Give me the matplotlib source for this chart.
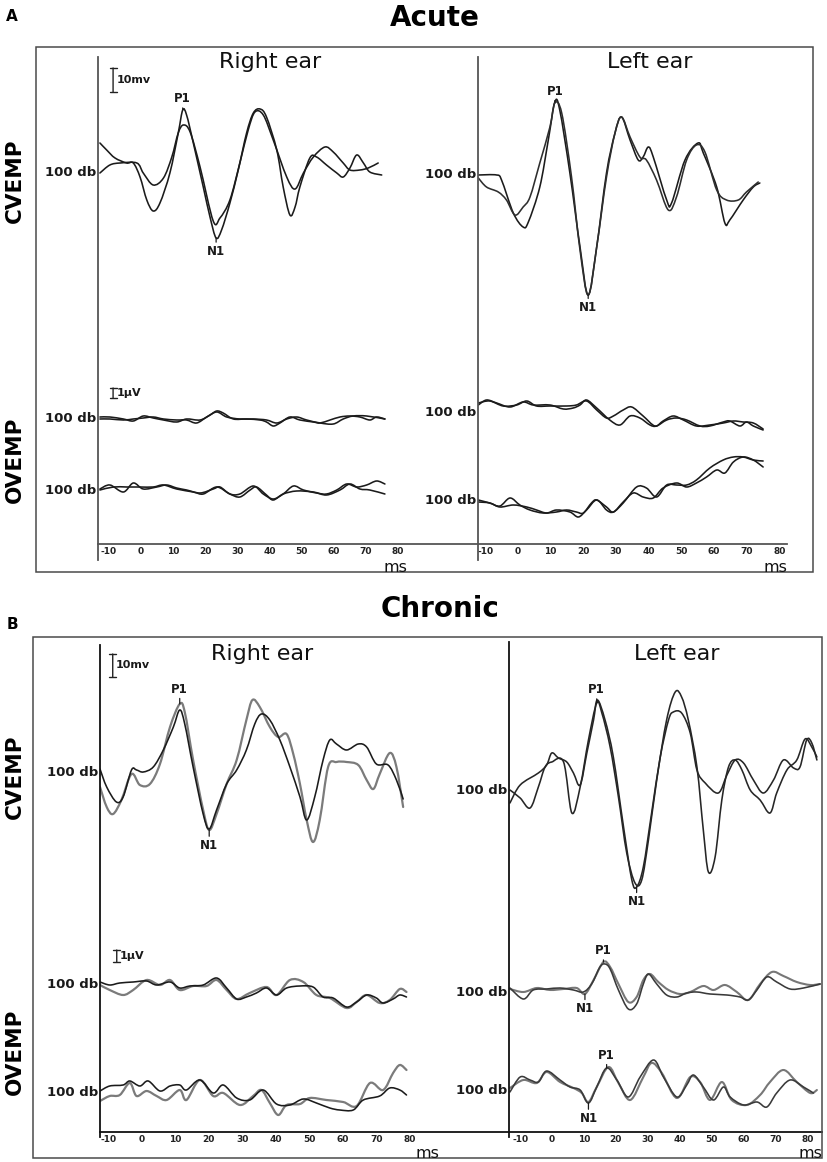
import numpy as np
import matplotlib
matplotlib.use("Agg")
import matplotlib.pyplot as plt
from matplotlib.patches import Rectangle, PathPatch
from matplotlib.path import Path

# x axis ticks (ms)
TICKS_MS = [-10, 0, 10, 20, 30, 40, 50, 60, 70, 80]
TICK_LABELS = ["-10", "0", "10", "20", "30", "40", "50", "60", "70", "80"]

# ---------------- Acute, right ear ----------------
A_R_CV_T1 = [-12.8, -10.7, -8.1, -4.5, -2.4, -0.3, 1.8, 3.8, 5.9, 9.0, 11.6, 13.0, 14.2, 16.3, 19.4, 21.5, 23.4, 25.1, 27.7, 30.3,
             32.9, 35.0, 37.1, 39.1, 42.3, 44.3, 46.4, 48.0, 49.5, 52.6, 54.7, 57.8, 61.0, 63.0, 65.1, 67.2, 69.3, 71.3, 75.0]
A_R_CV_Y1 = [30, 23, 15, 10, 10, -4, -27, -38, -30, 0, 40, 63, 58, 30, -14, -44, -65, -57, -30, 3,
             40, 60, 64, 56, 23, -14, -42, -34, -14, 15, 16, 8, 0, -4, 5, 18, 10, 1, -2]
A_R_CV_T2 = [-12.8, -9.7, -6.5, -1.3, 0.7, 3.8, 7.0, 9.6, 11.6, 13.2, 15.3, 18.4, 22.5, 24.6, 27.7, 30.8, 33.4, 35.5, 38.1, 41.2,
             45.4, 48.0, 50.6, 53.7, 57.3, 59.9, 63.0, 65.1, 68.2, 70.8, 73.9]
A_R_CV_Y2 = [0, 8, 10, 10, 0, -12, -5, 16, 40, 48, 41, 6, -48, -45, -27, 10, 43, 61, 58, 33,
             -4, -16, 0, 16, 26, 21, 10, 3, 3, 5, 10]

A_R_OV1_T1 = [-12.8, -9.7, -5.5, -2.4, 0.7, 3.8, 7.0, 11.1, 14.2, 18.4, 21.5, 23.6, 25.6, 28.8, 32.9, 37.1, 39.1, 41.2, 43.3, 46.4,
              49.5, 53.7, 55.8, 58.9, 62.0, 65.1, 68.2, 71.3, 73.4, 76.0]
A_R_OV1_Y1 = [2, 2, 0, -2, 3, 1, -1, -3, 0, -1, 4, 8, 6, 0, 0, -1, -3, -7, -4, 2,
              -1, -3, -4, -1, 2, 3, 2, -1, 2, 0]
A_R_OV1_T2 = [-12.8, -9.7, -5.5, -2.4, 0.7, 3.8, 7.0, 11.1, 14.2, 17.3, 20.5, 23.6, 26.7, 30.8, 35.0, 39.1, 42.3, 45.4, 48.5, 51.6,
              55.8, 59.9, 63.0, 66.1, 70.3, 76.0]
A_R_OV1_Y2 = [0, 0, -1, 0, 1, 2, 0, -1, -1, -4, 2, 7, 2, 0, 0, -1, -4, 0, 2, -1,
              -4, -5, 0, 3, 3, 0]
A_R_OV2_T1 = [-12.8, -9.7, -5.5, -2.4, 0.7, 4.9, 8.0, 11.1, 14.2, 18.4, 22.5, 24.6, 27.7, 30.8, 35.0, 38.1, 41.2, 44.3, 47.5, 50.6,
              54.7, 57.8, 61.0, 64.1, 67.2, 70.3, 73.4, 76.0]
A_R_OV2_Y1 = [2, 6, -1, 8, 2, 4, 6, 3, 1, -2, 2, 4, -3, -3, 5, -3, -8, -3, 5, 1,
              -2, -3, 1, 7, 4, 6, 10, 7]
A_R_OV2_T2 = [-12.8, -8.6, -4.5, -0.3, 3.8, 7.0, 11.1, 16.3, 19.4, 23.6, 27.7, 30.8, 34.0, 36.0, 39.1, 41.2, 44.3, 48.5, 53.7, 57.8,
              62.0, 65.1, 68.2, 71.3, 76.0]
A_R_OV2_Y2 = [1, 4, 4, 4, 4, 6, 2, -1, -3, 4, -3, -6, 1, 4, -4, -9, -3, 0, -1, -4,
              1, 7, 2, 1, -3]

# ---------------- Acute, left ear ----------------
A_L_CV_T1 = [-12.1, -6.5, -5.0, -1.4, 1.6, 3.2, 6.7, 9.3, 11.3, 12.8, 15.9, 19.0, 21.5, 24.1, 27.1, 29.7, 31.7, 34.3, 36.8, 38.3,
             39.9, 41.4, 45.5, 47.0, 51.1, 55.1, 56.7, 60.8, 63.3, 64.8, 68.9, 72.0, 74.0]
A_L_CV_Y1 = [0, 0, -5, -38, -52, -47, -12, 35, 73, 65, 2, -72, -120, -72, 2, 42, 58, 35, 15, 18,
             28, 18, -25, -28, 15, 32, 22, -12, -48, -45, -25, -12, -8]
A_L_CV_T2 = [-12.1, -9.6, -6.0, -3.5, -0.9, 1.6, 3.7, 6.7, 9.8, 11.3, 13.4, 16.4, 19.0, 21.5, 24.1, 27.1, 29.7, 31.7, 34.3, 37.3,
             39.3, 42.4, 46.0, 48.5, 51.6, 54.6, 57.2, 60.8, 63.8, 67.4, 69.9, 73.5]
A_L_CV_Y2 = [-3, -12, -17, -25, -40, -32, -22, 12, 48, 72, 62, -2, -75, -120, -72, -2, 42, 58, 38, 18,
             15, -5, -35, -22, 15, 30, 23, -15, -25, -25, -17, -7]

A_L_OV1_T1 = [-12.1, -9.6, -6.5, -2.4, 1.6, 4.7, 9.8, 13.9, 16.9, 19.0, 21.0, 24.1, 28.1, 31.2, 34.3, 37.3, 40.4, 42.4, 45.5, 48.5,
              51.6, 55.7, 58.7, 62.8, 64.8, 67.9, 69.9, 72.0, 75.0]
A_L_OV1_Y1 = [8, 13, 10, 6, 11, 8, 8, 4, 5, 8, 13, 5, -7, -12, -3, -5, -12, -13, -7, -5,
              -7, -13, -13, -9, -8, -13, -9, -13, -17]
A_L_OV1_T2 = [-12.1, -8.6, -4.5, -0.4, 2.7, 5.7, 9.8, 14.9, 17.9, 21.0, 24.1, 27.1, 29.2, 32.2, 34.8, 38.3, 41.9, 44.4, 47.5, 50.6,
              54.6, 58.7, 62.8, 65.9, 68.9, 72.0, 75.0]
A_L_OV1_Y2 = [10, 12, 7, 8, 12, 7, 7, 7, 8, 12, 3, -5, -3, 3, 6, -3, -13, -8, -3, -7,
              -13, -12, -10, -8, -9, -10, -16]
A_L_OV2_T1 = [-12.1, -8.6, -5.5, -2.4, 0.6, 3.7, 7.7, 11.8, 14.9, 17.9, 20.0, 22.5, 24.1, 27.1, 29.2, 32.2, 35.3, 38.3, 41.4, 44.4,
              48.5, 51.6, 54.6, 57.7, 60.8, 63.3, 65.9, 68.9, 72.0, 75.0]
A_L_OV2_Y1 = [0, -3, -6, 2, -5, -10, -13, -12, -10, -12, -13, -3, 0, -7, -12, -2, 7, 3, 2, 12,
              17, 13, 17, 23, 30, 27, 38, 43, 40, 33]
A_L_OV2_T2 = [-12.1, -8.6, -5.5, -1.4, 2.7, 5.7, 8.8, 11.8, 15.9, 18.5, 21.0, 24.1, 27.1, 29.2, 32.2, 36.3, 39.3, 42.4, 45.5, 48.5,
              51.6, 54.6, 58.7, 62.8, 65.9, 68.9, 72.0, 75.0]
A_L_OV2_Y2 = [-2, -3, -7, -5, -7, -10, -13, -10, -12, -17, -10, 0, -10, -12, -3, 13, 12, 3, 15, 15,
              15, 20, 32, 40, 43, 43, 40, 39]

# ---------------- Chronic, right ear ----------------
B_R_CV_T1 = [-12.5, -10.5, -7.6, -5.6, -3.1, -1.6, 0.4, 3.4, 6.4, 9.4, 11.3, 12.8, 15.3, 18.3, 20.1, 22.3, 25.3, 28.3, 31.2, 33.7,
             35.7, 38.2, 41.2, 44.2, 47.2, 49.2, 51.6, 54.1, 56.1, 58.1, 61.1, 64.6, 67.1, 70.0, 73.5, 76.0, 78.0]
B_R_CV_Y1 = [3, -15, -30, -25, 2, 2, 0, 5, 22, 45, 62, 48, 5, -42, -57, -38, -12, 2, 22, 48,
             58, 52, 32, 5, -25, -48, -25, 12, 32, 28, 22, 28, 25, 8, 7, -8, -27]
B_R_CV_T2 = [-12.5, -10.5, -8.6, -6.1, -3.1, -0.6, 2.4, 5.4, 8.4, 11.3, 12.8, 15.3, 18.3, 20.1, 22.3, 25.3, 28.3, 31.2, 33.0, 35.2,
             38.2, 40.7, 43.2, 45.2, 47.2, 49.2, 51.1, 53.1, 55.6, 58.1, 61.1, 64.6, 67.1, 69.1, 71.0, 74.0, 76.0, 78.0]
B_R_CV_Y2 = [-15, -35, -42, -28, -2, -13, -12, 8, 45, 68, 60, 12, -38, -58, -42, -12, 12, 52, 72, 65,
             45, 35, 38, 18, -12, -48, -70, -48, 5, 10, 10, 7, -8, -17, -2, 19, 5, -35]

B_R_OV1_T1 = [-12.5, -9.6, -6.6, -2.6, 1.4, 4.4, 8.4, 11.3, 14.3, 18.3, 22.3, 25.3, 28.3, 31.2, 34.2, 37.2, 40.2, 43.2, 47.2, 51.1,
              54.1, 57.1, 61.1, 64.1, 67.1, 70.0, 72.0, 75.0, 77.0, 79.0]
B_R_OV1_Y1 = [3, 0, 2, 3, 4, 0, 3, -3, -1, 0, 7, -3, -14, -12, -8, -3, -10, -3, -1, -2,
              -12, -13, -22, -17, -10, -13, -18, -14, -10, -12]
B_R_OV1_T2 = [-12.5, -9.6, -5.6, -2.6, 1.4, 5.4, 8.4, 11.3, 15.3, 19.3, 22.3, 25.3, 28.3, 32.2, 37.2, 40.2, 44.2, 48.2, 52.1, 56.1,
              61.1, 64.1, 67.1, 71.0, 74.0, 77.0, 79.0]
B_R_OV1_Y2 = [0, -5, -10, -5, 5, 0, 5, -5, -1, -1, 5, -5, -14, -8, -2, -10, 5, 3, -10, -13,
              -23, -17, -10, -18, -15, -4, -7]
B_R_OV2_T1 = [-12.5, -9.6, -5.6, -3.6, -0.6, 1.9, 5.4, 8.4, 11.3, 13.3, 17.3, 21.3, 24.3, 28.3, 32.2, 36.2, 40.2, 44.2, 48.2, 52.1,
              56.1, 59.1, 63.1, 66.1, 71.0, 74.0, 77.0, 79.0]
B_R_OV2_Y1 = [2, 7, 8, 12, 7, 12, 2, 7, 8, 3, 13, 0, 8, -5, -7, 3, -11, -12, -6, -10,
              -15, -17, -17, -7, -3, 5, 3, -2]
B_R_OV2_T2 = [-12.5, -9.6, -6.6, -3.6, -1.6, 1.4, 4.4, 7.4, 11.3, 13.3, 17.3, 21.3, 24.3, 29.3, 33.2, 35.7, 38.2, 40.7, 43.2, 47.2,
              50.1, 55.1, 60.1, 64.1, 68.1, 72.0, 75.0, 77.0, 79.0]
B_R_OV2_Y2 = [-8, -3, -2, 10, -3, 2, -3, -7, 3, -7, 13, -3, 0, -12, -3, 3, -10, -22, -12, -11,
              -5, -7, -9, -13, 10, 3, 20, 28, 23]

# ---------------- Chronic, left ear ----------------
B_L_CV_T1 = [-13.2, -10.0, -4.3, -1.7, -0.1, 2.0, 4.6, 6.7, 8.8, 10.9, 13.0, 14.2, 16.6, 19.2, 22.4, 25.0, 26.5, 28.6, 31.2, 33.9,
             36.5, 38.0, 40.6, 43.3, 45.4, 48.0, 52.1, 54.8, 57.4, 60.0, 63.1, 66.2, 69.4, 72.5, 75.7, 77.7, 79.8, 81.4, 83.0]
B_L_CV_Y1 = [-13, 5, 17, 25, 37, 32, 28, 17, 5, 37, 70, 90, 70, 33, -37, -90, -97, -77, -23, 33,
             70, 78, 77, 57, 20, 7, -3, 15, 30, 27, 10, -3, 10, 30, 22, 23, 50, 47, 30]
B_L_CV_T2 = [-13.2, -10.0, -6.9, -4.3, -2.2, -0.1, 3.6, 6.2, 8.8, 11.4, 14.0, 15.6, 18.2, 20.8, 23.4, 26.0, 28.1, 30.2, 32.8, 35.9,
             38.6, 40.6, 42.7, 45.4, 47.4, 49.0, 51.1, 53.2, 55.3, 57.4, 59.5, 62.1, 65.2, 68.3, 70.4, 73.6, 76.7, 79.3, 81.4, 83.0]
B_L_CV_Y2 = [0, -8, -18, 3, 23, 28, 28, -23, 3, 50, 87, 77, 43, -7, -63, -93, -90, -50, 10, 70,
             98, 93, 70, 23, -40, -82, -67, -10, 23, 30, 20, 0, -10, -23, -3, 20, 30, 51, 43, 33]

B_L_OV1_T1 = [-13.2, -9.0, -5.9, -1.7, 2.5, 6.7, 9.8, 12.4, 15.0, 16.6, 18.2, 20.8, 23.9, 26.5, 28.6, 30.2, 32.8, 35.9, 39.1, 42.2,
              45.4, 49.5, 54.8, 58.9, 61.5, 64.2, 67.3, 70.4, 74.6, 78.8, 84.0]
B_L_OV1_Y1 = [4, -7, 2, 3, 4, 2, 0, 8, 25, 28, 23, 2, -17, -12, 8, 18, 8, -3, -5, -1,
              0, -2, -3, -5, -8, 2, 15, 10, 3, 4, 8]
B_L_OV1_T2 = [-13.2, -9.0, -4.8, -0.6, 3.6, 7.7, 10.3, 13.0, 16.1, 18.2, 20.8, 23.9, 26.5, 28.6, 30.7, 33.3, 36.5, 40.1, 43.3, 47.4,
              50.6, 54.2, 57.9, 61.5, 65.2, 68.9, 72.5, 76.7, 80.9, 84.0]
B_L_OV1_Y2 = [3, 0, 4, 2, 3, 4, -2, 12, 30, 25, 8, -10, -5, 12, 18, 10, 2, -2, 0, 6,
              2, 7, 0, -8, 8, 20, 16, 10, 7, 8]
B_L_OV2_T1 = [-13.2, -10.0, -6.9, -4.3, -1.7, 2.5, 5.6, 8.8, 11.4, 14.0, 17.1, 20.3, 23.9, 27.6, 31.8, 34.9, 39.1, 42.2, 44.3, 47.4,
              50.6, 53.7, 55.8, 60.0, 64.2, 67.3, 70.4, 74.6, 78.8, 81.9]
B_L_OV2_Y1 = [-2, 13, 10, 8, 19, 10, 3, 0, -13, 3, 22, 10, -7, 13, 30, 13, -7, 5, 15, 3,
              -10, 3, -7, -15, -12, -17, -3, 10, 3, -3]
B_L_OV2_T2 = [-13.2, -9.0, -4.8, -1.7, 2.5, 6.7, 9.3, 11.4, 14.0, 17.7, 20.8, 24.5, 28.6, 31.2, 34.4, 39.1, 43.3, 46.4, 49.5, 53.2,
              56.3, 61.0, 65.2, 68.3, 72.5, 76.7, 80.9, 83.0]
B_L_OV2_Y2 = [2, 10, 7, 18, 8, 2, -3, -12, 3, 23, 7, -10, 13, 27, 17, -8, 13, 8, -10, 8,
              -10, -15, -5, 8, 20, 8, -3, 0]

# ---------------- layout (pixels of the 827x1162 output) ----------------
W, H = 827, 1162
fig = plt.figure(figsize=(W / 100, H / 100), dpi=100)
fig.patch.set_facecolor("white")

BLACK = "#1b1b1b"
GRAY = "#7b7b7b"


def fig_box(l, t, r, b):
    return [l / W, 1 - b / H, (r - l) / W, (b - t) / H]


def ftext(x, y, s, **kw):
    fig.text(x / W, 1 - y / H, s, **kw)


def make_ear(l, t, r, b, xaxis, x0, x1, spine_col):
    ax = fig.add_axes(fig_box(l, t, r, b))
    ax.patch.set_visible(False)
    ax.set_xlim(x0, x1)
    # 1 data unit = 1 px vertically, y = 0 on the ms axis line
    ax.set_ylim(xaxis - b, xaxis - t)
    for s in ("top", "right"):
        ax.spines[s].set_visible(False)
    ax.spines["left"].set_color(spine_col)
    ax.spines["left"].set_linewidth(1.3)
    ax.spines["bottom"].set_position(("data", 0))
    ax.spines["bottom"].set_color(spine_col)
    ax.spines["bottom"].set_linewidth(1.3)
    ax.set_yticks([])
    ax.set_xticks(TICKS_MS)
    ax.set_xticklabels(TICK_LABELS, fontsize=6.5, fontweight="bold", color="#222222")
    ax.tick_params(axis="x", length=0, pad=2.5)
    ax.xaxis.set_ticks_position("bottom")
    return ax


def trace(ax, base, t, y, color=BLACK, lw=1.15):
    # smooth pen-like curve through the read points (Catmull-Rom drawn as Bezier)
    p = np.column_stack([np.asarray(t, float), base + np.asarray(y, float)])
    verts, codes = [p[0]], [Path.MOVETO]
    for i in range(len(p) - 1):
        p0 = p[i - 1] if i > 0 else p[i]
        p3 = p[i + 2] if i + 2 < len(p) else p[i + 1]
        verts += [p[i] + (p[i + 1] - p0) / 6, p[i + 1] - (p3 - p[i]) / 6, p[i + 1]]
        codes += [Path.CURVE4] * 3
    ax.add_patch(PathPatch(Path(verts, codes), fill=False, edgecolor=color, lw=lw,
                           joinstyle="round", capstyle="round"))


def db_label(ax, base):
    ax.annotate("100 db", xy=(0, base), xycoords=("axes fraction", "data"),
                xytext=(-1.5, 0), textcoords="offset points", ha="right", va="center",
                fontsize=9.5, fontweight="bold", color="#1a1a1a")


def mark(ax, base, t, y, t0, label, kind, off):
    t = np.asarray(t)
    y = np.asarray(y)
    idx = np.flatnonzero(np.abs(t - t0) <= 2.5)
    i = idx[np.argmax(y[idx])] if kind == "max" else idx[np.argmin(y[idx])]
    ax.annotate(label, xy=(t[i], base + y[i]), xytext=(0, off), textcoords="offset points",
                ha="center", va="bottom" if off > 0 else "top", fontsize=8.5, fontweight="bold",
                color="#1a1a1a",
                arrowprops=dict(arrowstyle="-", lw=0.9, color="#1a1a1a", shrinkA=0, shrinkB=0))


def scale_bar(ax, tb, y0, length, label):
    ax.annotate("", xy=(tb, y0), xytext=(tb, y0 + length),
                arrowprops=dict(arrowstyle="|-|,widthA=0.25,widthB=0.25", lw=1.0,
                                color="#222222", shrinkA=0, shrinkB=0))
    ax.text(tb + 1.0, y0 + length / 2, label, ha="left", va="center",
            fontsize=8, fontweight="bold", color="#1a1a1a")


# outer frames
for (l, t, r, b) in [(36, 47, 813, 572), (33, 637, 822, 1158)]:
    fig.patches.append(Rectangle((l / W, 1 - b / H), (r - l) / W, (b - t) / H,
                                 transform=fig.transFigure, fill=False,
                                 edgecolor="#4a4a4a", lw=1.1))

# titles and side labels
ftext(12, 21, "A", fontsize=11, fontweight="bold", ha="center", va="baseline")
ftext(12, 629, "B", fontsize=11, fontweight="bold", ha="center", va="baseline")
ftext(435, 26, "Acute", fontsize=20, fontweight="bold", ha="center", va="baseline")
ftext(440, 617, "Chronic", fontsize=20, fontweight="bold", ha="center", va="baseline")
for y, s in [(181, "CVEMP"), (460, "OVEMP"), (777, "CVEMP"), (1052, "OVEMP")]:
    ftext(15, y, s, fontsize=15.5, fontweight="bold", rotation=90, ha="center", va="center")
for x, y, s in [(270, 68, "Right ear"), (650, 68, "Left ear"), (262, 660, "Right ear"), (677, 660, "Left ear")]:
    ftext(x, y, s, fontsize=16, ha="center", va="baseline", color="#111111")
for x, y in [(395, 568), (775, 567), (427, 1153), (810, 1154)]:
    ftext(x, y, "ms", fontsize=11.5, ha="center", va="center", color="#111111")

# ---------------- Acute ----------------
ax = make_ear(98, 57, 478, 560, 544, -13.4, 105.0, "#555555")
b_cv, b_o1, b_o2 = 544 - 173, 544 - 419, 544 - 491
trace(ax, b_cv, A_R_CV_T1, A_R_CV_Y1)
trace(ax, b_cv, A_R_CV_T2, A_R_CV_Y2)
trace(ax, b_o1, A_R_OV1_T1, A_R_OV1_Y1)
trace(ax, b_o1, A_R_OV1_T2, A_R_OV1_Y2)
trace(ax, b_o2, A_R_OV2_T1, A_R_OV2_Y1)
trace(ax, b_o2, A_R_OV2_T2, A_R_OV2_Y2)
for bb in (b_cv, b_o1, b_o2):
    db_label(ax, bb)
mark(ax, b_cv, A_R_CV_T1, A_R_CV_Y1, 13, "P1", "max", 3.5)
mark(ax, b_cv, A_R_CV_T1, A_R_CV_Y1, 23.4, "N1", "min", -5)
scale_bar(ax, -8.7, 452, 24, "10mv")
scale_bar(ax, -8.7, 146, 10, "1µV")

ax = make_ear(478, 57, 787, 560, 544, -12.2, 82.3, "#555555")
b_cv, b_o1, b_o2 = 544 - 175, 544 - 413, 544 - 500
trace(ax, b_cv, A_L_CV_T1, A_L_CV_Y1)
trace(ax, b_cv, A_L_CV_T2, A_L_CV_Y2, color="#2e2e2e")
trace(ax, b_o1, A_L_OV1_T1, A_L_OV1_Y1)
trace(ax, b_o1, A_L_OV1_T2, A_L_OV1_Y2)
trace(ax, b_o2, A_L_OV2_T1, A_L_OV2_Y1)
trace(ax, b_o2, A_L_OV2_T2, A_L_OV2_Y2)
for bb in (b_cv, b_o1, b_o2):
    db_label(ax, bb)
mark(ax, b_cv, A_L_CV_T1, A_L_CV_Y1, 11.3, "P1", "max", 3)
mark(ax, b_cv, A_L_CV_T1, A_L_CV_Y1, 21.5, "N1", "min", -4.5)

# ---------------- Chronic ----------------
ax = make_ear(100, 645, 509, 1137, 1132, -12.5, 109.6, "#111111")
b_cv, b_o1, b_o2 = 1132 - 772, 1132 - 985, 1132 - 1093
trace(ax, b_cv, B_R_CV_T2, B_R_CV_Y2, color=GRAY, lw=1.6)
trace(ax, b_cv, B_R_CV_T1, B_R_CV_Y1)
trace(ax, b_o1, B_R_OV1_T2, B_R_OV1_Y2, color=GRAY, lw=1.6)
trace(ax, b_o1, B_R_OV1_T1, B_R_OV1_Y1)
trace(ax, b_o2, B_R_OV2_T2, B_R_OV2_Y2, color=GRAY, lw=1.6)
trace(ax, b_o2, B_R_OV2_T1, B_R_OV2_Y1)
for bb in (b_cv, b_o1, b_o2):
    db_label(ax, bb)
mark(ax, b_cv, B_R_CV_T2, B_R_CV_Y2, 11.3, "P1", "max", 6)
mark(ax, b_cv, B_R_CV_T2, B_R_CV_Y2, 20.1, "N1", "min", -6.5)
scale_bar(ax, -8.7, 455, 23, "10mv")
scale_bar(ax, -7.5, 170, 12, "1µV")

ax = make_ear(509, 642, 822, 1137, 1132, -13.5, 84.6, "#111111")
b_cv, b_o1, b_o2 = 1132 - 790, 1132 - 992, 1132 - 1090
trace(ax, b_cv, B_L_CV_T1, B_L_CV_Y1, color="#262626")
trace(ax, b_cv, B_L_CV_T2, B_L_CV_Y2, color="#262626")
trace(ax, b_o1, B_L_OV1_T2, B_L_OV1_Y2, color="#777777", lw=1.5)
trace(ax, b_o1, B_L_OV1_T1, B_L_OV1_Y1, color="#3a3a3a")
trace(ax, b_o2, B_L_OV2_T2, B_L_OV2_Y2, color="#777777", lw=1.5)
trace(ax, b_o2, B_L_OV2_T1, B_L_OV2_Y1, color="#3a3a3a")
for bb in (b_cv, b_o1, b_o2):
    db_label(ax, bb)
mark(ax, b_cv, B_L_CV_T2, B_L_CV_Y2, 14.0, "P1", "max", 5)
mark(ax, b_cv, B_L_CV_T1, B_L_CV_Y1, 26.0, "N1", "min", -6)
mark(ax, b_o1, B_L_OV1_T2, B_L_OV1_Y2, 16.1, "P1", "max", 3.5)
mark(ax, b_o1, B_L_OV1_T2, B_L_OV1_Y2, 10.3, "N1", "min", -6)
mark(ax, b_o2, B_L_OV2_T1, B_L_OV2_Y1, 17.5, "P1", "max", 4.5)
mark(ax, b_o2, B_L_OV2_T1, B_L_OV2_Y1, 11.4, "N1", "min", -6.5)

fig.savefig("out.png", dpi=100, facecolor="white")
